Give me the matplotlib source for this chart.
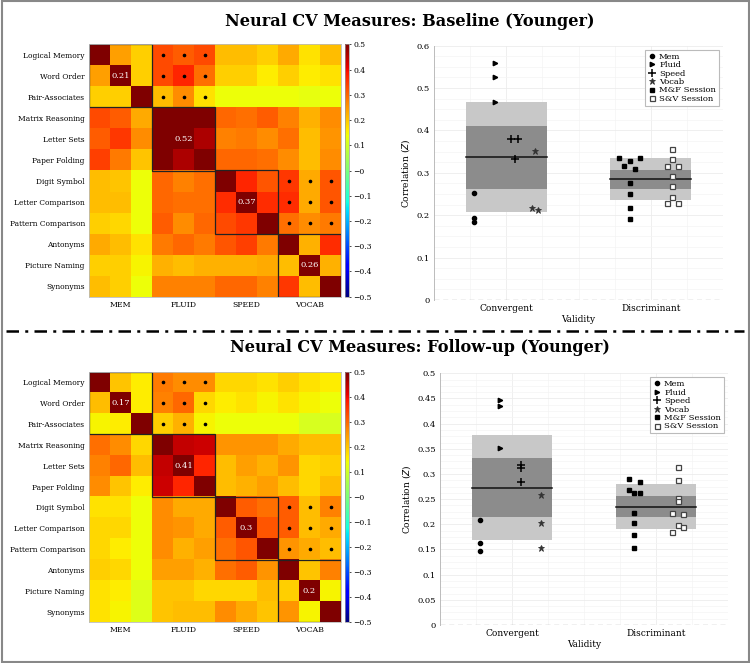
import numpy as np
import matplotlib
matplotlib.use('Agg')
import matplotlib.pyplot as plt
from matplotlib.patches import Rectangle
from matplotlib.lines import Line2D

plt.rcParams['font.family'] = ['DejaVu Serif']
plt.rcParams['axes.unicode_minus'] = True

TESTS = ['Logical Memory', 'Word Order', 'Pair-Associates', 'Matrix Reasoning',
         'Letter Sets', 'Paper Folding', 'Digit Symbol', 'Letter Comparison',
         'Pattern Comparison', 'Antonyms', 'Picture Naming', 'Synonyms']
DOMAINS = ['MEM', 'FLUID', 'SPEED', 'VOCAB']
SESSION_BLOCKS = [(0, 1), (2, 3)]

# correlation matrices
base_corr = [
    [1.00, 0.24, 0.19, 0.33, 0.31, 0.33, 0.21, 0.21, 0.19, 0.23, 0.17, 0.21],
    [0.24, 1.00, 0.19, 0.33, 0.37, 0.29, 0.19, 0.19, 0.16, 0.19, 0.16, 0.17],
    [0.19, 0.19, 1.00, 0.21, 0.26, 0.17, 0.14, 0.14, 0.14, 0.14, 0.13, 0.14],
    [0.33, 0.31, 0.23, 1.00, 0.50, 0.50, 0.30, 0.29, 0.31, 0.27, 0.22, 0.26],
    [0.31, 0.35, 0.26, 0.50, 1.00, 0.46, 0.27, 0.28, 0.26, 0.29, 0.21, 0.25],
    [0.34, 0.28, 0.20, 0.50, 0.46, 1.00, 0.30, 0.30, 0.29, 0.26, 0.21, 0.26],
    [0.21, 0.20, 0.14, 0.30, 0.27, 0.29, 1.00, 0.37, 0.32, 0.35, 0.23, 0.32],
    [0.21, 0.21, 0.14, 0.30, 0.29, 0.29, 0.36, 1.00, 0.36, 0.36, 0.23, 0.32],
    [0.19, 0.18, 0.14, 0.31, 0.26, 0.30, 0.33, 0.35, 1.00, 0.29, 0.26, 0.28],
    [0.23, 0.21, 0.17, 0.28, 0.30, 0.28, 0.32, 0.34, 0.28, 1.00, 0.22, 0.36],
    [0.19, 0.19, 0.15, 0.22, 0.21, 0.22, 0.22, 0.22, 0.23, 0.21, 1.00, 0.22],
    [0.21, 0.19, 0.14, 0.27, 0.27, 0.27, 0.30, 0.30, 0.27, 0.35, 0.21, 1.00],
]
follow_corr = [
    [1.00, 0.20, 0.16, 0.28, 0.26, 0.26, 0.18, 0.18, 0.17, 0.19, 0.17, 0.16],
    [0.21, 1.00, 0.16, 0.27, 0.30, 0.18, 0.16, 0.17, 0.15, 0.17, 0.15, 0.14],
    [0.15, 0.16, 1.00, 0.19, 0.22, 0.15, 0.14, 0.14, 0.14, 0.14, 0.11, 0.11],
    [0.29, 0.26, 0.18, 1.00, 0.44, 0.43, 0.25, 0.25, 0.25, 0.23, 0.21, 0.21],
    [0.27, 0.30, 0.21, 0.44, 1.00, 0.37, 0.21, 0.24, 0.22, 0.25, 0.18, 0.19],
    [0.26, 0.20, 0.16, 0.43, 0.37, 1.00, 0.21, 0.22, 0.24, 0.21, 0.18, 0.21],
    [0.17, 0.17, 0.14, 0.26, 0.23, 0.23, 1.00, 0.31, 0.29, 0.31, 0.21, 0.27],
    [0.18, 0.18, 0.14, 0.26, 0.25, 0.23, 0.31, 1.00, 0.32, 0.31, 0.21, 0.23],
    [0.18, 0.16, 0.14, 0.26, 0.22, 0.24, 0.29, 0.32, 1.00, 0.25, 0.23, 0.21],
    [0.19, 0.18, 0.14, 0.24, 0.24, 0.22, 0.29, 0.31, 0.25, 1.00, 0.20, 0.27],
    [0.17, 0.16, 0.12, 0.20, 0.20, 0.18, 0.18, 0.18, 0.21, 0.19, 1.00, 0.15],
    [0.17, 0.15, 0.12, 0.20, 0.21, 0.21, 0.26, 0.23, 0.20, 0.25, 0.15, 1.00],
]
base_block_means = [0.21, 0.52, 0.37, 0.26]
follow_block_means = [0.17, 0.41, 0.3, 0.2]

# convergent / discriminant points: (values, x jitter)
CATEGORIES = ['Convergent', 'Discriminant']
base_mem = [0.252, 0.193, 0.185]
base_fluid = [0.559, 0.525, 0.466]
base_speed = [0.381, 0.381, 0.332]
base_speed_dx = [0.03, 0.08, 0.06]
base_vocab = [0.352, 0.216, 0.212]
base_vocab_dx = [0.20, 0.18, 0.22]
base_mf = [0.334, 0.315, 0.327, 0.310, 0.336, 0.276, 0.251, 0.218, 0.190]
base_mf_dx = [-0.22, -0.185, -0.146, -0.109, -0.074, -0.146, -0.146, -0.146, -0.146]
base_sv = [0.356, 0.333, 0.317, 0.315, 0.292, 0.270, 0.242, 0.228, 0.228]
base_sv_dx = [0.15, 0.15, 0.11, 0.19, 0.15, 0.15, 0.15, 0.11, 0.19]
base_conv_box = [0.208, 0.468, 0.263, 0.411, 0.338]  # outer lo, outer hi, inner lo, inner hi, mean
base_disc_box = [0.236, 0.334, 0.262, 0.307, 0.285]

follow_mem = [0.209, 0.162, 0.147]
follow_fluid = [0.447, 0.436, 0.352]
follow_speed = [0.318, 0.311, 0.285]
follow_speed_dx = [0.06, 0.06, 0.06]
follow_vocab = [0.258, 0.202, 0.152]
follow_vocab_dx = [0.20, 0.20, 0.20]
follow_mf = [0.291, 0.285, 0.268, 0.263, 0.263, 0.223, 0.203, 0.179, 0.152]
follow_mf_dx = [-0.19, -0.11, -0.19, -0.15, -0.11, -0.15, -0.15, -0.15, -0.15]
follow_sv = [0.313, 0.288, 0.252, 0.247, 0.222, 0.221, 0.199, 0.195, 0.185]
follow_sv_dx = [0.15, 0.15, 0.15, 0.15, 0.11, 0.19, 0.15, 0.19, 0.11]
follow_conv_box = [0.169, 0.377, 0.214, 0.332, 0.273]
follow_disc_box = [0.191, 0.281, 0.215, 0.256, 0.235]

W, H = 750, 663
fig = plt.figure(figsize=(W / 100, H / 100), dpi=100)


def fx(px):
    return px / W


def fy(py):
    return 1 - py / H


def plot_heatmap(top, bottom, corr, block_means):
    ax = fig.add_axes([fx(89), fy(bottom), fx(252), (bottom - top) / H])
    im = ax.imshow(np.array(corr), cmap='jet', vmin=-0.5, vmax=0.5, aspect='auto',
                   interpolation='nearest')
    for b in range(4):
        ax.add_patch(Rectangle((b * 3 - 0.5, b * 3 - 0.5), 3, 3, fill=False,
                               edgecolor='#222222', lw=0.9))
        ax.text(b * 3 + 1, b * 3 + 1, f'{block_means[b]:g}', color='white',
                ha='center', va='center', fontsize=6)
    for br, bc in SESSION_BLOCKS:
        for i in range(3):
            for j in range(3):
                ax.plot(bc * 3 + j, br * 3 + i, 'o', color='black', ms=1.6)
    ax.set_xticks([1, 4, 7, 10])
    ax.set_xticklabels(DOMAINS, fontsize=5.6)
    ax.set_yticks(range(12))
    ax.set_yticklabels(TESTS, fontsize=5.4)
    ax.tick_params(length=0, pad=3)
    for s in ax.spines.values():
        s.set_color('#bbbbbb')
        s.set_linewidth(0.6)

    cax = fig.add_axes([fx(344.5), fy(bottom), fx(4.8), (bottom - top) / H])
    cb = fig.colorbar(im, cax=cax)
    ticks = np.round(np.arange(-0.5, 0.51, 0.1), 1)
    cb.set_ticks(ticks)
    cb.set_ticklabels([f'{t:g}'.replace('-', '\u2212') for t in ticks])
    cb.ax.tick_params(labelsize=5.5, length=1.5, width=0.5, pad=1.5)
    cb.outline.set_linewidth(0.5)
    cb.outline.set_edgecolor('#999999')


def plot_validity(left, right, top, bottom, ymax, ystep, data):
    (mem, fluid, speed, speed_dx, vocab, vocab_dx,
     mf, mf_dx, sv, sv_dx, conv_box, disc_box) = data
    ax = fig.add_axes([fx(left), fy(bottom), fx(right - left), (bottom - top) / H])
    half = 0.28
    for pos, box in zip([1, 2], [conv_box, disc_box]):
        ax.add_patch(Rectangle((pos - half, box[0]), 2 * half, box[1] - box[0],
                               facecolor='#c8c8c8', edgecolor='none', zorder=1))
        ax.add_patch(Rectangle((pos - half, box[2]), 2 * half, box[3] - box[2],
                               facecolor='#8c8c8c', edgecolor='none', zorder=2))
        ax.plot([pos - half, pos + half], [box[4], box[4]], color='#111111', lw=1.1, zorder=3)

    ax.plot(np.full(len(mem), 1 - 0.22), mem, 'o', color='black', ms=3, zorder=4, label='Mem')
    ax.plot(np.full(len(fluid), 1 - 0.08), fluid, '>', color='black', ms=3.2, zorder=4, label='Fluid')
    ax.plot(1 + np.array(speed_dx), speed, '+', color='black', ms=5.5, mew=1.1, zorder=4, label='Speed')
    ax.plot(1 + np.array(vocab_dx), vocab, '*', color='#333333', ms=5, mew=0.6, zorder=4, label='Vocab')
    ax.plot(2 + np.array(mf_dx), mf, 's', color='black', ms=3.3, zorder=4, label='M&F Session')
    ax.plot(2 + np.array(sv_dx), sv, 's', mfc='white', mec='#444444', mew=0.9, ms=3.6, zorder=4,
            label='S&V Session')

    ax.axhline(0, color='#888888', lw=0.9, ls=(0, (4, 3)), zorder=2)
    ax.set_xlim(0.5, 2.5)
    ax.set_ylim(0, ymax)
    yt = np.round(np.arange(0, ymax + 1e-9, ystep), 2)
    ax.set_yticks(yt)
    ax.set_yticklabels([f'{t:g}' for t in yt], fontsize=6)
    ax.set_xticks([1, 2])
    ax.set_xticklabels(CATEGORIES, fontsize=6.5)
    ax.set_xticks([0.75, 1.25, 1.5, 1.75, 2.25], minor=True)
    ax.set_yticks(np.arange(0, ymax + 1e-9, ystep / 4), minor=True)
    ax.tick_params(which='both', length=0, pad=3)
    ax.grid(True, which='major', color='#ececec', lw=0.6, zorder=0)
    ax.grid(True, which='minor', color='#f4f4f4', lw=0.5, zorder=0)
    ax.set_axisbelow(True)
    for s in ['top', 'right', 'bottom']:
        ax.spines[s].set_visible(False)
    ax.spines['left'].set_color('#bbbbbb')
    ax.spines['left'].set_linewidth(0.7)
    ax.set_ylabel('Correlation ($\\mathit{Z}$)', fontsize=6.5, labelpad=3)
    ax.set_xlabel('Validity', fontsize=6.5, labelpad=1)
    leg = ax.legend(loc='upper right', fontsize=6, handlelength=0.8, handletextpad=0.5,
                    labelspacing=0.05, borderpad=0.35, borderaxespad=0.5, fancybox=False,
                    framealpha=1)
    leg.get_frame().set_edgecolor('#bbbbbb')
    leg.get_frame().set_linewidth(0.8)


# baseline
fig.text(fx(410), fy(22), 'Neural CV Measures: Baseline (Younger)', ha='center', va='center',
         fontsize=11.6, fontweight='bold')
plot_heatmap(44.3, 296.7, base_corr, base_block_means)
plot_validity(434, 723, 45.7, 300, 0.6, 0.1,
              (base_mem, base_fluid, base_speed, base_speed_dx, base_vocab, base_vocab_dx,
               base_mf, base_mf_dx, base_sv, base_sv_dx, base_conv_box, base_disc_box))

# follow-up
fig.text(fx(420), fy(348), 'Neural CV Measures: Follow-up (Younger)', ha='center', va='center',
         fontsize=11.6, fontweight='bold')
plot_heatmap(371.7, 622.3, follow_corr, follow_block_means)
plot_validity(440, 728, 373.3, 625, 0.5, 0.05,
              (follow_mem, follow_fluid, follow_speed, follow_speed_dx, follow_vocab, follow_vocab_dx,
               follow_mf, follow_mf_dx, follow_sv, follow_sv_dx, follow_conv_box, follow_disc_box))

# separator and frame
fig.add_artist(Line2D([fx(6), fx(744)], [fy(331), fy(331)], color='black', lw=1.8,
                      ls=(0, (5, 2.5, 1.2, 2.5))))
fig.add_artist(Rectangle((0.002, 0.002), 0.996, 0.996, transform=fig.transFigure, fill=False,
                         edgecolor='#888888', lw=1.5))

fig.savefig('out.png', dpi=100)
